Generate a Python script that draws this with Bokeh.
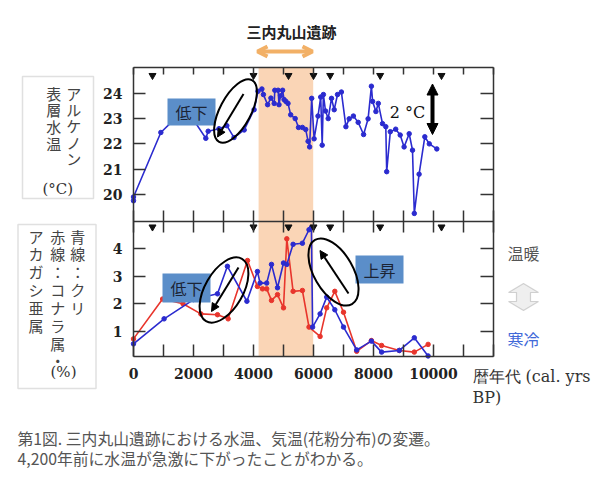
import math
from bokeh.plotting import figure
from bokeh.models import (Range1d, LinearAxis, FixedTicker, BoxAnnotation, Label,
                          Arrow, NormalHead, OpenHead, PolyAnnotation)
from bokeh.embed import file_html
from bokeh.resources import INLINE

# ---------------- data ----------------
sst_years = [0, 0, 911, 1300, 2000, 2410, 2490, 2850, 3110, 3350, 3690, 4020, 4150, 4280,
             4330, 4470, 4580, 4690, 4710, 4820, 4850, 4900, 4970, 5020, 5080, 5150, 5240,
             5390, 5500, 5630, 5740, 5820, 5870, 5940, 6020, 6150, 6240, 6290, 6330, 6400,
             6490, 6600, 6690, 6800, 6930, 7080, 7190, 7330, 7490, 7670, 7820, 7930, 7970,
             8080, 8160, 8300, 8410, 8440, 8560, 8740, 8890, 9020, 9190, 9300, 9360, 9520,
             9710, 9860, 10110]
sst_temp = [19.75, 19.9, 22.45, 22.9, 22.95, 22.22, 22.5, 22.6, 22.72, 22.25, 22.55, 23.35,
            24.08, 24.17, 23.95, 23.55, 23.81, 23.6, 24.12, 24.12, 23.55, 23.9, 24.12, 23.75,
            23.68, 23.6, 23.15, 23.0, 22.65, 22.65, 22.57, 22.1, 21.88, 23.8, 22.2, 23.1,
            23.85, 21.95, 23.95, 23.3, 23.0, 23.8, 23.35, 23.95, 24.05, 22.68, 22.99, 23.1,
            22.85, 22.37, 22.99, 24.28, 23.68, 23.28, 23.6, 22.8, 22.68, 20.9, 22.48, 22.58,
            22.35, 21.88, 22.4, 21.75, 19.25, 20.8, 22.28, 22.0, 21.8]

kuri_years = [0, 1020, 2000, 2800, 3130, 3780, 4130, 4220, 4440, 4600, 4800, 5000, 5110,
              5320, 5630, 5850, 5930, 5970, 6220, 6440, 6710, 7000, 7440, 7930, 8270, 8860,
              9360, 9820]
kuri_pct = [0.54, 1.45, 2.15, 2.36, 3.36, 2.09, 3.17, 2.75, 2.75, 3.43, 2.58, 3.48, 3.43,
            4.16, 4.2, 4.69, 4.77, 1.15, 1.63, 2.24, 1.78, 1.15, 0.32, 0.64, 0.24, 0.3,
            0.76, 0.1]

konara_years = [0, 970, 1650, 2245, 2800, 3155, 3800, 4130, 4300, 4440, 4600, 4800, 5000,
                5110, 5320, 5630, 5850, 6220, 6440, 6710, 7000, 7440, 7930, 8270, 8860,
                9360, 9820]
konara_pct = [0.72, 2.17, 2.0, 1.63, 1.6, 1.45, 3.57, 2.63, 2.54, 2.54, 2.12, 2.33, 1.85,
              4.36, 2.45, 2.48, 1.15, 0.81, 1.85, 2.45, 1.69, 0.27, 0.66, 0.48, 0.3, 0.24,
              0.52]

date_marks = [633, 4000, 5167, 6000, 6556, 8222, 10267]
site_start, site_end = 4170, 5990

x_ticks = list(range(0, 13000, 1000))
x_tick_labels = {t: (str(t) if (t % 2000 == 0 and t <= 10000) else "") for t in x_ticks}
sst_ticks = [20, 21, 22, 23, 24]
pollen_ticks = [1, 2, 3, 4]

# ---------------- geometry (canvas pixels) ----------------
W, H = 600, 479
FRAME_L, FRAME_R = 133, 493
TOP_T, MID, BOT_B = 67, 221, 356
X0, X1 = 0, 12000
TOP_Y0, TOP_Y1 = 18.93, 25.02
BOT_Y0, BOT_Y1 = 0.08, 4.99

def xd(ax):
    return X0 + (ax - FRAME_L) / (FRAME_R - FRAME_L) * (X1 - X0)

def yt(ay):
    return TOP_Y1 - (ay - TOP_T) / (MID - TOP_T) * (TOP_Y1 - TOP_Y0)

def yb(ay):
    return BOT_Y1 - (ay - MID) / (BOT_B - MID) * (BOT_Y1 - BOT_Y0)

BLUE = "#2b2bcf"
RED = "#e8352c"
BAND = "#fad5b6"
BOXBLUE = "#5b8ec9"
ORANGE = "#f2b066"
AXC = "#333333"
CJK = "Noto Sans CJK JP"
SERIF = "DejaVu Serif"

p = figure(width=W, height=H, x_range=Range1d(xd(0), xd(W)), y_range=Range1d(yt(H), yt(0)),
           min_border=0, toolbar_location=None, output_backend="svg",
           x_axis_location=None, y_axis_location=None)
p.extra_y_ranges = {"bot": Range1d(yb(H), yb(0))}
p.xgrid.grid_line_color = None
p.ygrid.grid_line_color = None
p.outline_line_color = None
p.background_fill_color = "white"
p.border_fill_color = "white"


def make_axis(side, ticks, loc, bounds, tick_in, tick_out=0, labels=None, yname="default"):
    ax = LinearAxis(y_range_name=yname, fixed_location=loc, bounds=bounds,
                    ticker=FixedTicker(ticks=ticks))
    ax.major_tick_in = tick_in
    ax.major_tick_out = tick_out
    ax.minor_tick_line_color = None
    ax.axis_line_color = AXC
    ax.axis_line_width = 1.5
    ax.major_tick_line_color = AXC
    ax.major_tick_line_width = 1.5
    ax.major_label_text_font = SERIF
    ax.major_label_text_font_style = "bold"
    ax.major_label_text_font_size = "14px"
    ax.major_label_text_color = "#222222"
    ax.major_label_standoff = 11
    if labels is None:
        ax.major_label_overrides = {t: "" for t in ticks}
    elif labels is not True:
        ax.major_label_overrides = labels
    p.add_layout(ax, side)
    return ax


# frame of both panels drawn by axes
make_axis("left", sst_ticks, X0, (TOP_Y0, TOP_Y1), 12, labels=True)
make_axis("left", pollen_ticks, X0, (BOT_Y0, BOT_Y1), 12, labels=True, yname="bot")
make_axis("right", sst_ticks, X1, (TOP_Y0, TOP_Y1), 13)
make_axis("right", pollen_ticks, X1, (BOT_Y0, BOT_Y1), 13, yname="bot")
make_axis("above", x_ticks, TOP_Y1, (X0, X1), 7)
make_axis("below", x_ticks, TOP_Y0, (X0, X1), 11, tick_out=11)
make_axis("below", x_ticks, BOT_Y0, (X0, X1), 12, labels=x_tick_labels, yname="bot")

# Sannai-Maruyama period band (both panels)
p.add_layout(BoxAnnotation(left=site_start, right=site_end, top=TOP_Y1, bottom=yt(BOT_B),
                           fill_color=BAND, fill_alpha=1, line_color=None, level="underlay"))


def add_text(x, y, text, size="15px", font=CJK, color="#333333", align="center",
             style="normal", baseline="middle", line_height=1.2):
    p.add_layout(Label(x=x, y=y, text=text, text_font=font, text_font_size=size,
                       text_color=color, text_align=align, text_baseline=baseline,
                       text_font_style=style, text_line_height=line_height))


# ---------------- top panel: alkenone SST ----------------
p.line(sst_years, sst_temp, line_color=BLUE, line_width=1.6)
p.scatter(sst_years, sst_temp, size=4.5, color=BLUE)
p.scatter(date_marks, [yt(75)] * len(date_marks), marker="inverted_triangle", size=7,
          color="#111111")

p.quad(left=[xd(167)], right=[xd(215)], top=[yt(98)], bottom=[yt(125)],
       fill_color=BOXBLUE, line_color=None)
add_text(xd(191), yt(111.5), "低下", size="16px", color="#1b2435")
p.ellipse(x=[xd(235)], y=[yt(110.5)], width=[70], height=[31], angle=[math.radians(62)],
          width_units="screen", height_units="screen", fill_color=None,
          line_color="black", line_width=2)
p.add_layout(Arrow(x_start=xd(243), y_start=yt(93.5), x_end=xd(217), y_end=yt(136.5),
                   line_width=2, line_color="black",
                   end=NormalHead(size=8, fill_color="black", line_color="black")))
p.add_layout(Arrow(x_start=xd(432), y_start=yt(134), x_end=xd(432), y_end=yt(83.5),
                   line_width=4, line_color="black",
                   start=NormalHead(size=11, fill_color="black", line_color="black"),
                   end=NormalHead(size=11, fill_color="black", line_color="black")))
add_text(xd(407), yt(112), "2 °C", size="16px", font=SERIF, color="#111111")

# title + orange arrow
add_text(xd(291), yt(31), "三内丸山遺跡", size="15px", color="#222222", style="bold")
p.add_layout(Arrow(x_start=xd(257), y_start=yt(51), x_end=xd(312), y_end=yt(51),
                   line_width=4, line_color=ORANGE,
                   start=OpenHead(size=10, line_width=4, line_color=ORANGE),
                   end=OpenHead(size=10, line_width=4, line_color=ORANGE)))

# left legend box (top)
p.add_layout(BoxAnnotation(left=xd(22), right=xd(93), top=yt(76), bottom=yt(198),
                           fill_color=None, line_color="#999999", line_width=1.5))
add_text(xd(73.3), yt(82), "\n".join("アルケノン"), color="#444444", baseline="top",
         line_height=0.78)
add_text(xd(53.3), yt(82), "\n".join("表層水温"), color="#444444", baseline="top",
         line_height=0.8)
add_text(xd(57.3), yt(188.5), "(°C)", font=SERIF, color="#333333")

# ---------------- bottom panel: pollen ----------------
p.line(konara_years, konara_pct, line_color=RED, line_width=1.6, y_range_name="bot")
p.scatter(konara_years, konara_pct, size=4.5, color=RED, y_range_name="bot")
p.line(kuri_years, kuri_pct, line_color=BLUE, line_width=1.6, y_range_name="bot")
p.scatter(kuri_years, kuri_pct, size=4.5, color=BLUE, y_range_name="bot")
p.scatter(date_marks, [yt(226.5)] * len(date_marks), marker="inverted_triangle", size=7,
          color="#111111")

p.quad(left=[xd(162)], right=[xd(210)], top=[yt(273)], bottom=[yt(302)],
       fill_color=BOXBLUE, line_color=None)
add_text(xd(186), yt(287.5), "低下", size="16px", color="#1b2435")
p.ellipse(x=[xd(223.5)], y=[yt(289.5)], width=[72], height=[38], angle=[math.radians(60)],
          width_units="screen", height_units="screen", fill_color=None,
          line_color="black", line_width=2)
p.add_layout(Arrow(x_start=xd(238), y_start=yt(267), x_end=xd(211), y_end=yt(311),
                   line_width=2, line_color="black",
                   end=NormalHead(size=8, fill_color="black", line_color="black")))
p.quad(left=[xd(355)], right=[xd(403)], top=[yt(255)], bottom=[yt(283)],
       fill_color=BOXBLUE, line_color=None)
add_text(xd(379), yt(269), "上昇", size="16px", color="#1b2435")
p.ellipse(x=[xd(333)], y=[yt(271.5)], width=[74], height=[39], angle=[math.radians(120)],
          width_units="screen", height_units="screen", fill_color=None,
          line_color="black", line_width=2)
p.add_layout(Arrow(x_start=xd(348), y_start=yt(293), x_end=xd(319.5), y_end=yt(250),
                   line_width=2, line_color="black",
                   end=NormalHead(size=8, fill_color="black", line_color="black")))

# left legend box (bottom)
p.add_layout(BoxAnnotation(left=xd(17.5), right=xd(95.5), top=yt(224), bottom=yt(388),
                           fill_color=None, line_color="#999999", line_width=1.5))
for cx, txt in [(77.3, "青線：クリ"), (57.3, "赤線：コナラ属・"), (35.5, "アカガシ亜属")]:
    add_text(xd(cx), yt(225), "\n".join(txt), color="#444444", baseline="top",
             line_height=0.85)
add_text(xd(63), yt(371.5), "(%)", font=SERIF, color="#333333")

# right side: 温暖 / 寒冷 with hollow double arrow
add_text(xd(523), yt(252), "温暖", size="16px", color="#555555")
add_text(xd(523), yt(338), "寒冷", size="16px", color="#4169d9")
ax_l, ax_r, sh_l, sh_r = 508, 538, 516, 530
t0, t1, b0, b1 = 283, 292, 301, 310
arrow_px = [(523, t0), (ax_r, t1), (sh_r, t1), (sh_r, b0), (ax_r, b0), (523, b1),
            (ax_l, b0), (sh_l, b0), (sh_l, t1), (ax_l, t1)]
p.add_layout(PolyAnnotation(xs=[xd(a) for a, _ in arrow_px], ys=[yt(b) for _, b in arrow_px],
                            fill_color="#efefef", fill_alpha=1, line_color="#777777",
                            line_width=1.2))

# x axis title
add_text(xd(472), yt(376), "暦年代 (cal. yrs", size="16px", font=SERIF, color="#333333",
         align="left")
add_text(xd(472), yt(397), "BP)", size="16px", font=SERIF, color="#333333", align="left")

# caption
add_text(xd(17), yt(438), "第1図. 三内丸山遺跡における水温、気温(花粉分布)の変遷。",
         size="15.8px", color="#555555", align="left")
add_text(xd(17), yt(458), "4,200年前に水温が急激に下がったことがわかる。",
         size="15.8px", color="#555555", align="left")

open("out.html", "w").write(file_html(p, INLINE))
